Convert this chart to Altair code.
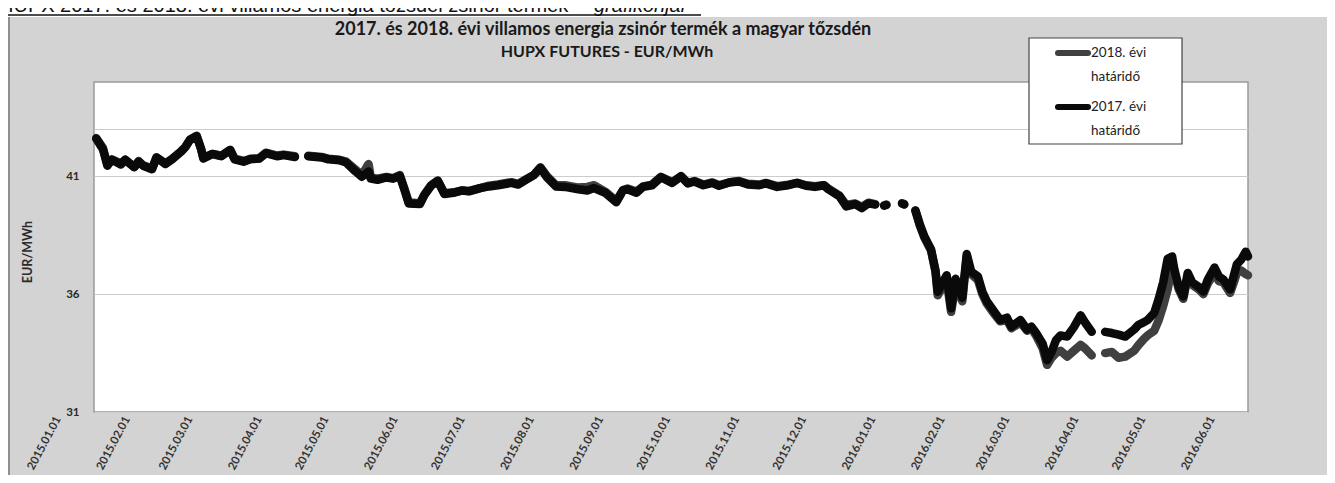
import altair as alt
import pandas as pd

# ---------------- data ----------------
dates = [
    "2015-01-02", "2015-01-05", "2015-01-07", "2015-01-09", "2015-01-13", "2015-01-15",
    "2015-01-19", "2015-01-21", "2015-01-23", "2015-01-27", "2015-01-29", "2015-02-02",
    "2015-02-05", "2015-02-09", "2015-02-11", "2015-02-13", "2015-02-16", "2015-02-18",
    "2015-02-19", "2015-02-23", "2015-02-25", "2015-02-27", "2015-03-03", "2015-03-05",
    "2015-03-09", "2015-03-12", "2015-03-16", "2015-03-19", "2015-03-24", "2015-03-27",
    "2015-04-01", "2015-04-03", "2015-04-07", "2015-04-13", "2015-04-16", "2015-04-21",
    "2015-04-24", "2015-04-28", "2015-05-01", "2015-05-04", "2015-05-05", "2015-05-08",
    "2015-05-12", "2015-05-15", "2015-05-18", "2015-05-20", "2015-05-22", "2015-05-27",
    "2015-05-29", "2015-06-01", "2015-06-04", "2015-06-07", "2015-06-11", "2015-06-15",
    "2015-06-18", "2015-06-23", "2015-06-27", "2015-07-01", "2015-07-07", "2015-07-10",
    "2015-07-14", "2015-07-17", "2015-07-20", "2015-07-23", "2015-07-27", "2015-07-31",
    "2015-08-06", "2015-08-10", "2015-08-13", "2015-08-18", "2015-08-23", "2015-08-26",
    "2015-08-28", "2015-09-01", "2015-09-04", "2015-09-08", "2015-09-12", "2015-09-17",
    "2015-09-21", "2015-09-24", "2015-09-27", "2015-10-01", "2015-10-05", "2015-10-08",
    "2015-10-13", "2015-10-17", "2015-10-21", "2015-10-26", "2015-10-29", "2015-11-03",
    "2015-11-08", "2015-11-12", "2015-11-16", "2015-11-20", "2015-11-24", "2015-11-26",
    "2015-12-01", "2015-12-04", "2015-12-08", "2015-12-11", "2015-12-14", "2015-12-17",
    "2015-12-18", "2015-12-21", "2015-12-22", "2015-12-23", "2015-12-29", "2015-12-30",
    "2015-12-31",
    "2016-01-04", "2016-01-06", "2016-01-08", "2016-01-11", "2016-01-13", "2016-01-14",
    "2016-01-18", "2016-01-20", "2016-01-22", "2016-01-25", "2016-01-27", "2016-01-29",
    "2016-02-01", "2016-02-03", "2016-02-05", "2016-02-08", "2016-02-11", "2016-02-14",
    "2016-02-16", "2016-02-20", "2016-02-23", "2016-02-25", "2016-02-27", "2016-03-01",
    "2016-03-03", "2016-03-05", "2016-03-07", "2016-03-09", "2016-03-12", "2016-03-15",
    "2016-03-18", "2016-03-20", "2016-03-23", "2016-03-25", "2016-03-29", "2016-04-01",
    "2016-04-04", "2016-04-07", "2016-04-11", "2016-04-13", "2016-04-15", "2016-04-17",
    "2016-04-20", "2016-04-22", "2016-04-24", "2016-04-26", "2016-04-28", "2016-04-29",
    "2016-05-01", "2016-05-03", "2016-05-05", "2016-05-07", "2016-05-10", "2016-05-12",
    "2016-05-14", "2016-05-17", "2016-05-19", "2016-05-21", "2016-05-24", "2016-05-26",
    "2016-05-27", "2016-05-29", "2016-05-31", "2016-06-01",
]

# 2017. évi határidő (black) ; None = no trading (line break)
v2017 = [
    42.60, 42.15, 41.45, 41.70, 41.50, 41.70,
    41.38, 41.62, 41.45, 41.30, 41.80, 41.52,
    41.72, 42.05, 42.25, 42.55, 42.70, 42.15,
    41.75, 41.95, 41.90, 41.85, 42.12, 41.72,
    41.62, 41.72, 41.75, 41.98, 41.85, 41.90,
    41.82, None, 41.85, 41.80, 41.72, 41.68,
    41.58, 41.22, 40.98, 41.20, 40.90, 40.85,
    40.95, 40.90, 41.02, 40.45, 39.85, 39.82,
    40.20, 40.60, 40.80, 40.25, 40.30, 40.40,
    40.36, 40.50, 40.57, 40.62, 40.72, 40.65,
    40.88, 41.05, 41.35, 40.95, 40.57, 40.55,
    40.45, 40.40, 40.50, 40.30, 39.90, 40.40,
    40.45, 40.30, 40.55, 40.62, 40.96, 40.72,
    41.00, 40.70, 40.78, 40.62, 40.72, 40.60,
    40.75, 40.78, 40.65, 40.62, 40.70, 40.55,
    40.62, 40.72, 40.60, 40.55, 40.62, 40.45,
    40.15, 39.72, 39.82, 39.65, 39.85, 39.80,
    None, 39.75, 39.78, None, 39.85, 39.80,
    None,
    39.55, 38.95, 38.45, 37.90, 37.00, 36.10,
    36.80, 35.40, 36.65, 35.85, 37.70, 36.95,
    36.75, 36.10, 35.70, 35.30, 34.90, 35.00,
    34.62, 34.90, 34.50, 34.62, 34.36, 33.90,
    33.20, 33.55, 34.05, 34.25, 34.20, 34.60,
    35.10, 34.80, 34.40, None, 34.40, 34.35,
    34.28, 34.20, 34.50, 34.70, 34.79, 34.90,
    35.21, 35.80, 36.50, 37.50, 37.60, 37.05,
    36.30, 35.90, 36.90, 36.50, 36.30, 36.11,
    36.62, 37.13, 36.74, 36.62, 36.20, 36.91,
    37.26, 37.47, 37.80, 37.60,
]

# 2018. évi határidő (dark grey)
v2018 = [
    42.62, 42.20, 41.50, 41.72, 41.55, 41.70,
    41.40, 41.65, 41.47, 41.33, 41.80, 41.55,
    41.74, 42.05, 42.25, 42.55, 42.72, 42.15,
    41.78, 41.95, 41.92, 41.87, 42.12, 41.75,
    41.65, 41.74, 41.76, 42.00, 41.88, 41.92,
    41.85, None, 41.87, 41.82, 41.75, 41.70,
    41.62, 41.30, 41.05, 41.52, 40.95, 40.90,
    40.97, 40.92, 41.05, 40.50, 39.90, 39.85,
    40.22, 40.62, 40.82, 40.28, 40.32, 40.40,
    40.38, 40.50, 40.60, 40.65, 40.75, 40.68,
    40.90, 41.05, 41.38, 41.00, 40.62, 40.62,
    40.52, 40.55, 40.62, 40.35, 39.95, 40.42,
    40.48, 40.35, 40.57, 40.65, 40.98, 40.75,
    41.00, 40.72, 40.80, 40.65, 40.74, 40.62,
    40.75, 40.80, 40.68, 40.65, 40.72, 40.58,
    40.64, 40.72, 40.62, 40.58, 40.62, 40.48,
    40.18, 39.78, 39.85, 39.70, 39.88, 39.82,
    None, 39.77, 39.80, None, 39.85, 39.82,
    None,
    39.55, 38.90, 38.40, 37.85, 36.95, 35.95,
    36.60, 35.25, 36.40, 35.70, 37.60, 36.85,
    36.60, 36.00, 35.60, 35.20, 34.85, 34.90,
    34.55, 34.80, 34.45, 34.55, 34.25, 33.70,
    33.00, 33.30, 33.50, 33.60, 33.35, 33.60,
    33.85, 33.70, 33.40, None, 33.50, 33.55,
    33.30, 33.35, 33.60, 33.85, 34.06, 34.25,
    34.45, 34.90, 35.50, 36.20, 37.20, 36.90,
    36.20, 35.80, 36.75, 36.40, 36.20, 36.00,
    36.45, 36.90, 36.55, 36.50, 36.05, 36.60,
    36.90, 37.00, 36.85, 36.80,
]

series_names = ["2018. évi határidő", "2017. évi határidő"]
series_colors = ["#404040", "#0a0a0a"]

tick_labels = [
    "2015.01.01", "2015.02.01", "2015.03.01", "2015.04.01", "2015.05.01", "2015.06.01",
    "2015.07.01", "2015.08.01", "2015.09.01", "2015.10.01", "2015.11.01", "2015.12.01",
    "2016.01.01", "2016.02.01", "2016.03.01", "2016.04.01", "2016.05.01", "2016.06.01",
]
y_ticks = [31, 36, 41]
y_extra_grid = [43]
y_domain = [31, 45]

chart_title = "2017. és 2018. évi villamos energia zsinór termék a magyar tőzsdén"
chart_subtitle = "HUPX FUTURES - EUR/MWh"
y_title = "EUR/MWh"
header_text = "HUPX 2017. és 2018. évi villamos energia tőzsdei zsinór termék "
header_italic = "grafikonjai"

# ---------------- build table ----------------
rows = []
for name, vals in ((series_names[1], v2017), (series_names[0], v2018)):
    seg = 0
    for d, v in zip(dates, vals):
        if v is None:
            seg += 1
            continue
        rows.append({"date": d, "value": v, "series": name, "seg": f"{name}-{seg}"})
df = pd.DataFrame(rows)


def ms(lbl):
    return int(pd.Timestamp(lbl.replace(".", "-"), tz="UTC").value // 10**6)


tick_ms = [ms(t) for t in tick_labels]

W, H = 1154, 330
FONT = "Lato"
one = pd.DataFrame({"k": [0]})

x_enc = alt.X(
    "date:T",
    scale=alt.Scale(type="utc", domain=[tick_ms[0], tick_ms[-1]]),
    axis=alt.Axis(
        values=tick_ms,
        labelExpr="utcFormat(datum.value, '%Y.%m.%d')",
        labelAngle=-62,
        labelAlign="right",
        labelBaseline="middle",
        labelPadding=5,
        labelOffset=-36,
        labelOverlap=False,
        labelBound=False,
        labelFlush=False,
        labelFont=FONT,
        labelFontSize=11.5,
        labelFontWeight="bold",
        labelColor="#333333",
        ticks=False,
        domain=False,
        grid=False,
        title=None,
    ),
)
y_enc = alt.Y(
    "value:Q",
    scale=alt.Scale(domain=y_domain, nice=False, zero=False),
    axis=alt.Axis(
        values=y_ticks + y_extra_grid,
        labelExpr="indexof([31,36,41], datum.value) >= 0 ? datum.label : ''",
        grid=True,
        gridColor="#cccccc",
        gridWidth=1,
        ticks=False,
        domain=False,
        labelPadding=15,
        labelFont=FONT,
        labelFontSize=11.5,
        labelFontWeight="bold",
        labelColor="#2a2a2a",
        title=None,
    ),
)
color_scale = alt.Scale(domain=series_names, range=series_colors)

line_base = alt.Chart(df).mark_line(strokeWidth=8.5, strokeCap="round", strokeJoin="round")
line18 = line_base.transform_filter(alt.datum.series == series_names[0]).encode(
    x=x_enc, y=y_enc, color=alt.Color("series:N", scale=color_scale, legend=None), detail="seg:N"
)
line17 = line_base.transform_filter(alt.datum.series == series_names[1]).encode(
    x=x_enc, y=y_enc, color=alt.Color("series:N", scale=color_scale, legend=None), detail="seg:N"
)

# header strip (white, above the grey chart area) with the cut-off caption
header_bg = alt.Chart(one).mark_rect(color="white").encode(
    x=alt.value(-100), x2=alt.value(W + 100), y=alt.value(-90), y2=alt.value(-65)
)
header_t1 = alt.Chart(one).mark_text(
    font="Liberation Sans", fontSize=20, align="left", baseline="alphabetic", color="#111111"
).encode(x=alt.value(-95), y=alt.value(-70), text=alt.value(header_text))
header_t2 = alt.Chart(one).mark_text(
    font="Liberation Sans", fontSize=20, fontStyle="italic", align="left",
    baseline="alphabetic", color="#111111"
).encode(x=alt.value(500), y=alt.value(-70), text=alt.value(header_italic))
header_ul = alt.Chart(one).mark_rule(color="#111111", strokeWidth=1.5).encode(
    x=alt.value(-100), x2=alt.value(607), y=alt.value(-67)
)
left_border = alt.Chart(one).mark_rule(color="#7a7a7a", strokeWidth=1.5).encode(
    x=alt.value(-85), y=alt.value(-65), y2=alt.value(H + 70)
)

title1 = alt.Chart(one).mark_text(
    font=FONT, fontSize=18, fontWeight="bold", align="center", baseline="middle", color="#1a1a1a"
).encode(x=alt.value(509), y=alt.value(-52), text=alt.value(chart_title))
title2 = alt.Chart(one).mark_text(
    font=FONT, fontSize=16, fontWeight="bold", align="center", baseline="middle", color="#1a1a1a"
).encode(x=alt.value(513), y=alt.value(-30), text=alt.value(chart_subtitle))

ytitle = alt.Chart(one).mark_text(
    font=FONT, fontSize=12.5, fontWeight="bold", angle=270, align="center", baseline="middle",
    color="#2a2a2a"
).encode(x=alt.value(-66), y=alt.value(170), text=alt.value(y_title))

# legend box (manual)
leg_box = alt.Chart(one).mark_rect(fill="white", stroke="#444444", strokeWidth=1.2).encode(
    x=alt.value(935), x2=alt.value(1088), y=alt.value(-44), y2=alt.value(62)
)
leg_layers = [leg_box]
for i, (name, col, ly) in enumerate(zip(series_names, series_colors, [-29, 25])):
    leg_layers.append(
        alt.Chart(one).mark_rule(color=col, strokeWidth=6, strokeCap="round").encode(
            x=alt.value(964), x2=alt.value(994), y=alt.value(ly)
        )
    )
    first, second = name.rsplit(" ", 1)
    leg_layers.append(
        alt.Chart(one).mark_text(
            font=FONT, fontSize=13.5, align="left", baseline="middle", color="#222222"
        ).encode(x=alt.value(997), y=alt.value(ly), text=alt.value(first))
    )
    leg_layers.append(
        alt.Chart(one).mark_text(
            font=FONT, fontSize=13.5, align="left", baseline="middle", color="#222222"
        ).encode(x=alt.value(997), y=alt.value(ly + 24), text=alt.value(second))
    )

chart = alt.layer(
    line18, line17, header_bg, header_t1, header_t2, header_ul, left_border,
    title1, title2, ytitle, *leg_layers
).properties(
    width=W,
    height=H,
    background="#d3d3d3",
    autosize=alt.AutoSizeParams(type="none"),
    padding={"left": 86, "top": 74, "right": 79, "bottom": 63},
).configure_view(
    fill="white", stroke="#9a9a9a", strokeWidth=1.5
)

chart.save("out.html", embed_options={"renderer": "svg", "actions": False})
